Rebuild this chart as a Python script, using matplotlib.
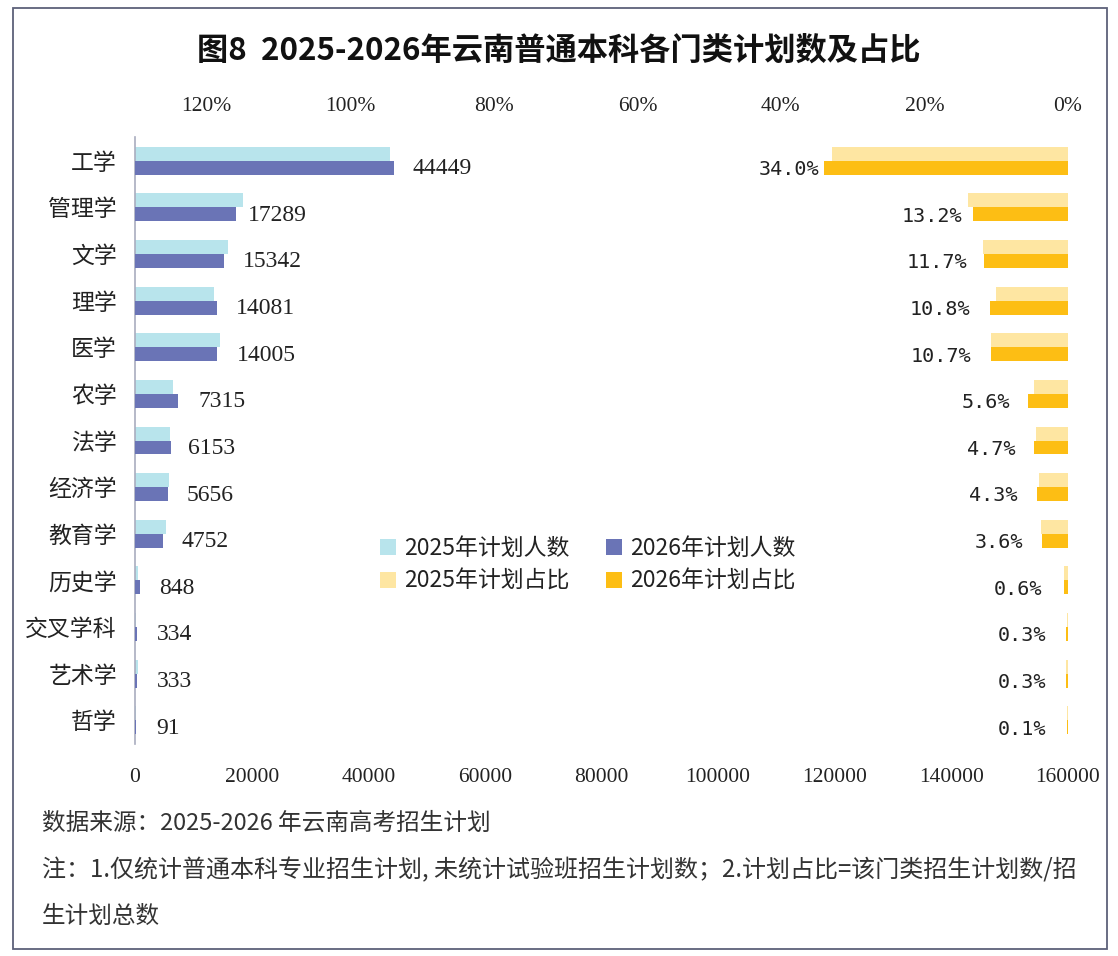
import matplotlib
matplotlib.use("Agg")
import matplotlib.pyplot as plt
from matplotlib.patches import Patch, Rectangle
import numpy as np

plt.rcParams['font.family'] = ['Noto Sans CJK SC', 'DejaVu Sans']

categories = ["工学", "管理学", "文学", "理学", "医学", "农学", "法学", "经济学",
              "教育学", "历史学", "交叉学科", "艺术学", "哲学"]
count_2025 = [43750, 18500, 15900, 13500, 14500, 6600, 6000, 5900, 5300, 570, 250, 450, 100]
count_2026 = [44449, 17289, 15342, 14081, 14005, 7315, 6153, 5656, 4752, 848, 334, 333, 91]
pct_2025 = [0.329, 0.140, 0.118, 0.100, 0.107, 0.047, 0.045, 0.040, 0.0375, 0.005, 0.002, 0.003, 0.001]
pct_2026 = [0.340, 0.132, 0.117, 0.108, 0.107, 0.056, 0.047, 0.043, 0.036, 0.006, 0.003, 0.003, 0.001]

count_ticks = [0, 20000, 40000, 60000, 80000, 100000, 120000, 140000, 160000]
pct_ticks = [0, 0.2, 0.4, 0.6, 0.8, 1.0, 1.2]

title = "图8  2025-2026年云南普通本科各门类计划数及占比"
legend_labels = ["2025年计划人数", "2026年计划人数", "2025年计划占比", "2026年计划占比"]
note1 = "数据来源：2025-2026 年云南高考招生计划"
note2 = "注：1.仅统计普通本科专业招生计划, 未统计试验班招生计划数；2.计划占比=该门类招生计划数/招"
note3 = "生计划总数"

# label gaps (pixels) between bar end and data label, as placed in the reference
count_gap_px = [18, 12, 18, 19, 20, 21, 17, 19, 19, 19, 20, 20, 21]
pct_gap_px = [5, 11, 17, 20, 20, 18, 19, 20, 19, 21, 20, 20, 21]

c25 = "#b8e4ec"
c26 = "#6a74b6"
p25 = "#fee6a2"
p26 = "#fdbe14"

W, H = 1118, 956
DPI = 100
px2pt = 72 / DPI
fig = plt.figure(figsize=(W / DPI, H / DPI), dpi=DPI)
fig.patch.set_facecolor("white")

# outer frame
fig.add_artist(Rectangle((13 / W, 1 - 949 / H), (1107 - 13) / W, (949 - 8) / H,
                         transform=fig.transFigure, fill=False,
                         edgecolor="#5d6179", linewidth=1.3))

ax = fig.add_axes([135 / W, 1 - 743.5 / H, (1068 - 135) / W, (743.5 - 137.5) / H])
ax.set_facecolor("none")
y = np.arange(len(categories))
h = 0.3
ax.barh(y - h / 2, count_2025, height=h, color=c25, zorder=2)
ax.barh(y + h / 2, count_2026, height=h, color=c26, zorder=3)
ax.set_xlim(0, 160000)
ax.set_ylim(len(categories) - 0.5, -0.5)
ax.set_yticks(y)
ax.set_yticklabels(categories, fontsize=16.5, color="#222222")
ax.set_xticks(count_ticks)
ax.set_xticklabels([str(t) for t in count_ticks], family=['Liberation Serif', 'DejaVu Serif'],
                   fontsize=15.5, color="#222222")
ax.tick_params(axis='both', length=0)
ax.tick_params(axis='x', pad=18)
ax.tick_params(axis='y', pad=13)
for s in ['top', 'right', 'bottom']:
    ax.spines[s].set_visible(False)
ax.spines['left'].set_color("#a9adbf")
ax.spines['left'].set_linewidth(1.2)

for yi, v, g in zip(y, count_2026, count_gap_px):
    ax.annotate(str(v), xy=(v, yi + h / 2 + 0.02), xytext=(g * px2pt, 0), textcoords='offset points',
                ha='left', va='center', fontsize=17, family=['Liberation Serif', 'DejaVu Serif'],
                color="#222222")

ax2 = ax.twiny()
ax2.set_facecolor("none")
ax2.barh(y - h / 2, pct_2025, height=h, color=p25, zorder=2)
ax2.barh(y + h / 2, pct_2026, height=h, color=p26, zorder=3)
ax2.set_xlim(1.30, 0)
ax2.set_xticks(pct_ticks)
ax2.set_xticklabels([f"{int(round(t * 100))}%" for t in pct_ticks],
                    family=['Liberation Serif', 'DejaVu Serif'], fontsize=15.5, color="#222222")
ax2.tick_params(axis='x', length=0, pad=15.5)
for s in ['top', 'right', 'bottom', 'left']:
    ax2.spines[s].set_visible(False)

for yi, v, g in zip(y, pct_2026, pct_gap_px):
    ax2.annotate(f"{v * 100:.1f}%", xy=(v, yi + h / 2 + 0.04), xytext=(-g * px2pt, 0),
                 textcoords='offset points', ha='right', va='center', fontsize=14.5,
                 family=['DejaVu Sans Mono'], color="#222222")

handles = [Patch(facecolor=c25, edgecolor='none', label=legend_labels[0]),
           Patch(facecolor=p25, edgecolor='none', label=legend_labels[2]),
           Patch(facecolor=c26, edgecolor='none', label=legend_labels[1]),
           Patch(facecolor=p26, edgecolor='none', label=legend_labels[3])]
fig.legend(handles=handles, loc='center', bbox_to_anchor=(588 / W, 1 - 565 / H), ncol=2,
           frameon=False, fontsize=16.5, handlelength=0.7, handleheight=0.7,
           handletextpad=0.35, columnspacing=1.6, labelspacing=0.4, labelcolor="#222222")

fig.text(559 / W, 1 - 51 / H, title, ha='center', va='center', fontsize=22.5,
         fontweight='bold', color="#111111")

fig.text(42 / W, 1 - 823 / H, note1, ha='left', va='center', fontsize=17, color="#333333",
         style='italic')
fig.text(42 / W, 1 - 870 / H, note2, ha='left', va='center', fontsize=17.3, color="#333333",
         style='italic')
fig.text(42 / W, 1 - 916 / H, note3, ha='left', va='center', fontsize=17, color="#333333",
         style='italic')

fig.savefig("out.png", dpi=DPI, facecolor="white")
